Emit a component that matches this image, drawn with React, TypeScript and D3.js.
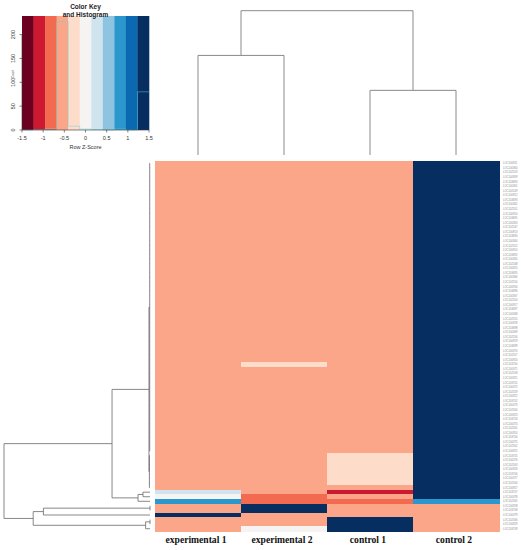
import * as d3 from "d3";

// columns of the heatmap (left to right)
const columns = ["experimental 1", "experimental 2", "control 1", "control 2"];

// row z-scores, one array per column, rows top to bottom
const expZ1 = [
  -0.5, -0.5, -0.5, -0.5, -0.5, -0.5, -0.5, -0.5, -0.5, -0.5,
  -0.5, -0.5, -0.5, -0.5, -0.5, -0.5, -0.5, -0.5, -0.5, -0.5,
  -0.5, -0.5, -0.5, -0.5, -0.5, -0.5, -0.5, -0.5, -0.5, -0.5,
  -0.5, -0.5, -0.5, -0.5, -0.5, -0.5, -0.5, -0.5, -0.5, -0.5,
  -0.5, -0.5, -0.5, -0.5, -0.5, -0.5, -0.5, -0.5, -0.5, -0.5,
  -0.5, -0.5, -0.5, -0.5, -0.5, -0.5, -0.5, -0.5, -0.5, -0.5,
  -0.5, -0.5, -0.5, -0.5, -0.5, -0.5, -0.5, -0.5, -0.5, -0.5,
  -0.5, -0.5, 0.25, 0, 0.8, -0.5, -0.5, 1.5, -0.5, -0.5,
  -0.6,
];
const expZ2 = [
  -0.5, -0.5, -0.5, -0.5, -0.5, -0.5, -0.5, -0.5, -0.5, -0.5,
  -0.5, -0.5, -0.5, -0.5, -0.5, -0.5, -0.5, -0.5, -0.5, -0.5,
  -0.5, -0.5, -0.5, -0.5, -0.5, -0.5, -0.5, -0.5, -0.5, -0.5,
  -0.5, -0.5, -0.5, -0.5, -0.5, -0.5, -0.5, -0.5, -0.5, -0.5,
  -0.5, -0.5, -0.5, -0.5, -0.3, -0.5, -0.5, -0.5, -0.5, -0.5,
  -0.5, -0.5, -0.5, -0.5, -0.5, -0.5, -0.5, -0.5, -0.5, -0.5,
  -0.5, -0.5, -0.5, -0.5, -0.5, -0.5, -0.5, -0.5, -0.5, -0.5,
  -0.5, -0.5, -0.5, -0.8, -0.8, 1.5, 1.5, -0.5, -0.5, -0.5,
  -0.1,
];
const ctrlZ1 = [
  -0.5, -0.5, -0.5, -0.5, -0.5, -0.5, -0.5, -0.5, -0.5, -0.5,
  -0.5, -0.5, -0.5, -0.5, -0.5, -0.5, -0.5, -0.5, -0.5, -0.5,
  -0.5, -0.5, -0.5, -0.5, -0.5, -0.5, -0.5, -0.5, -0.5, -0.5,
  -0.5, -0.5, -0.5, -0.5, -0.5, -0.5, -0.5, -0.5, -0.5, -0.5,
  -0.5, -0.5, -0.5, -0.5, -0.5, -0.5, -0.5, -0.5, -0.5, -0.5,
  -0.5, -0.5, -0.5, -0.5, -0.5, -0.5, -0.5, -0.5, -0.5, -0.5,
  -0.5, -0.5, -0.5, -0.5, -0.3, -0.3, -0.3, -0.3, -0.3, -0.3,
  -0.3, -0.5, -1.1, -0.5, -0.8, -0.5, -0.5, -0.5, 1.5, 1.5,
  1.4,
];
const ctrlZ2 = [
  1.5, 1.5, 1.5, 1.5, 1.5, 1.5, 1.5, 1.5, 1.5, 1.5,
  1.5, 1.5, 1.5, 1.5, 1.5, 1.5, 1.5, 1.5, 1.5, 1.5,
  1.5, 1.5, 1.5, 1.5, 1.5, 1.5, 1.5, 1.5, 1.5, 1.5,
  1.5, 1.5, 1.5, 1.5, 1.5, 1.5, 1.5, 1.5, 1.5, 1.5,
  1.5, 1.5, 1.5, 1.5, 1.3, 1.5, 1.5, 1.5, 1.5, 1.5,
  1.5, 1.5, 1.5, 1.5, 1.5, 1.5, 1.5, 1.5, 1.5, 1.5,
  1.5, 1.5, 1.5, 1.5, 1.3, 1.3, 1.3, 1.3, 1.3, 1.3,
  1.3, 1.5, 1.35, 1.3, 0.8, -0.5, -0.5, -0.5, -0.5, -0.5,
  -0.6,
];

// row labels (too small to read in the source, placeholders of similar length)
const rowLabels = (
  "LOC100911 LOC100360 LOC102553 LOC100909 LOC103690 LOC100361 LOC102549 LOC100912 LOC103693 " +
  "LOC100362 LOC102551 LOC100910 LOC103691 LOC100363 LOC102547 LOC100913 LOC103694 LOC100364 " +
  "LOC102552 LOC100914 LOC103692 LOC100365 LOC102548 LOC100915 LOC103695 LOC100366 LOC102550 " +
  "LOC100916 LOC103696 LOC100367 LOC102554 LOC100917 LOC103697 LOC100368 LOC102555 LOC100918 " +
  "LOC103698 LOC100369 LOC102556 LOC100919 LOC103699 LOC100370 LOC102557 LOC100920 LOC103700 " +
  "LOC100371 LOC102558 LOC100921 LOC103701 LOC100372 LOC102559 LOC100922 LOC103702 LOC100373 " +
  "LOC102560 LOC100923 LOC103703 LOC100374 LOC102561 LOC100924 LOC103704 LOC100375 LOC102562 " +
  "LOC100925 LOC103705 LOC100376 LOC102563 LOC100926 LOC103706 LOC100377 LOC102564 LOC100927 " +
  "LOC103707 LOC100378 LOC102565 LOC100928 LOC103708 LOC100379 LOC102566 LOC100929 LOC103709"
).split(" ");

// colour key (11 bands from -1.5 to 1.5)
const palette = [
  "#6b0020", "#cc1830", "#f26a4f", "#fba688", "#fddcc9", "#f6f4f2",
  "#cfe4ef", "#8ec4df", "#2b97cc", "#0a69b0", "#062e61",
];
const keyTicks = [-1.5, -1, -0.5, 0, 0.5, 1, 1.5];
const countTicks = [0, 50, 100, 150, 200];

// row dendrogram: merge heights, leaves are row indices
const baseRows = d3.range(0, 64);
const rowTree = {
  h: 10,
  c: [
    {
      h: 2.6,
      c: [
        { h: 0.07, c: [{ h: 0.02, c: baseRows }, { h: 0.04, c: [64, 65, 66, 67, 68, 69, 70, 71] }] },
        { h: 0.82, c: [{ h: 0.48, c: [72, 73] }, 74] },
      ],
    },
    {
      h: 8.0,
      c: [
        { h: 7.3, c: [{ h: 0, c: [75, 76] }, 77] },
        { h: 0.3, c: [{ h: 0, c: [78, 79] }, 80] },
      ],
    },
  ],
};

// column dendrogram
const colTree = { h: 1, c: [{ h: 0.69, c: [0, 1] }, { h: 0.448, c: [2, 3] }] };

type Seg = [number, number, number, number];

// p = position along the leaves, q = position along the height
function dendroSegs(tree: any, leafPos: (i: number) => number, hPos: (h: number) => number) {
  const root: any = d3.hierarchy(tree, (d: any) => (typeof d === "number" ? null : d.c));
  root.eachAfter((n: any) => {
    if (!n.children) {
      n.p = leafPos(n.data);
      n.q = hPos(0);
    } else {
      n.p = (n.children[0].p + n.children[n.children.length - 1].p) / 2;
      n.q = hPos(n.data.h);
    }
  });
  const segs: Seg[] = [];
  root.each((n: any) => {
    if (!n.children) return;
    const first = n.children[0];
    const last = n.children[n.children.length - 1];
    segs.push([first.p, n.q, last.p, n.q]);
    n.children.forEach((c: any) => segs.push([c.p, n.q, c.p, c.q]));
  });
  return segs;
}

export default function App() {
  const width = 521;
  const height = 550;

  const x = d3.scaleBand<string>().domain(columns).range([155, 499]);
  const y = d3.scaleBand<number>().domain(d3.range(rowLabels.length)).range([161, 531]);
  const color = d3.scaleQuantize<string>().domain([-1.5, 1.5]).range(palette);
  const series = [expZ1, expZ2, ctrlZ1, ctrlZ2];

  // key
  const breaks = d3.range(12).map((j) => -1.5 + (j * 3) / 11);
  const kx = d3.scaleLinear().domain([-1.5, 1.5]).range([22, 149]);
  const allZ = series.flat();
  const bins = d3.bin().domain([-1.5, 1.5]).thresholds(breaks.slice(1, -1))(allZ);
  const counts = bins.map((b) => b.length);
  const maxCount = d3.max(counts) as number;
  const ky = d3.scaleLinear().domain([0, maxCount / 0.95]).range([130, 16]);
  const histPts: [number, number][] = breaks.map((b, j) => [b, counts[Math.min(j, counts.length - 1)]]);
  const histPath = d3
    .line<[number, number]>()
    .x((d) => kx(d[0]))
    .y((d) => ky(d[1]))
    .curve(d3.curveStepAfter)(histPts);

  const rowSegs = dendroSegs(
    rowTree,
    (i) => (y(i) as number) + y.bandwidth() / 2,
    d3.scaleLinear().domain([0, 10]).range([150, 4])
  );
  const colSegs = dendroSegs(
    colTree,
    (i) => (x(columns[i]) as number) + x.bandwidth() / 2,
    d3.scaleLinear().domain([0, 1]).range([155, 10.7])
  );

  return (
    <svg
      width={width}
      height={height}
      style={{ position: "absolute", left: 0, top: 0, background: "#fff" }}
      fontFamily="Liberation Sans, Arial, sans-serif"
    >
      {/* colour key */}
      <g>
        {palette.map((c, j) => (
          <rect
            key={j}
            x={kx(breaks[j])}
            y={16}
            width={kx(breaks[j + 1]) - kx(breaks[j]) + 0.3}
            height={114}
            fill={c}
          />
        ))}
        <path d={histPath || ""} fill="none" stroke="#5fd6dc" strokeWidth={0.6} strokeOpacity={0.8} />
        <line x1={kx(-1.5)} x2={kx(1.5)} y1={130} y2={130} stroke="#333" strokeWidth={0.6} />
        {keyTicks.map((t) => (
          <g key={t}>
            <line x1={kx(t)} x2={kx(t)} y1={130} y2={132.5} stroke="#333" strokeWidth={0.6} />
            <text x={kx(t)} y={139.5} fontSize={5.5} textAnchor="middle" fill="#333">
              {t}
            </text>
          </g>
        ))}
        <line x1={22} x2={22} y1={ky(0)} y2={ky(200)} stroke="#333" strokeWidth={0.6} />
        {countTicks.map((t) => (
          <g key={t}>
            <line x1={19.5} x2={22} y1={ky(t)} y2={ky(t)} stroke="#333" strokeWidth={0.6} />
            <text
              transform={`translate(15,${ky(t)}) rotate(-90)`}
              fontSize={5.5}
              textAnchor="middle"
              fill="#333"
            >
              {t}
            </text>
          </g>
        ))}
        <text transform="translate(14,74) rotate(-90)" fontSize={3.2} textAnchor="middle" fill="#555">
          Count
        </text>
        <text x={85.5} y={148.5} fontSize={5.5} textAnchor="middle" fill="#333">
          Row Z-Score
        </text>
        <text x={85.5} y={9} fontSize={6.5} fontWeight="bold" textAnchor="middle" fill="#222">
          Color Key
        </text>
        <text x={85.5} y={16.5} fontSize={6.5} fontWeight="bold" textAnchor="middle" fill="#222">
          and Histogram
        </text>
      </g>

      {/* heatmap */}
      <g shapeRendering="crispEdges">
        {series.map((vals, ci) =>
          vals.map((v, ri) => (
            <rect
              key={`${ci}-${ri}`}
              x={x(columns[ci])}
              y={y(ri)}
              width={x.bandwidth() + 0.5}
              height={y.bandwidth() + 0.5}
              fill={color(v)}
            />
          ))
        )}
      </g>

      {/* row labels */}
      {rowLabels.map((l, i) => (
        <text
          key={l + i}
          x={503}
          y={(y(i) as number) + y.bandwidth() / 2 + 1}
          fontSize={2.7}
          fill="#888"
        >
          {l}
        </text>
      ))}

      {/* column labels */}
      {columns.map((c) => (
        <text
          key={c}
          x={(x(c) as number) + x.bandwidth() / 2 - 2}
          y={543}
          fontSize={9.6}
          fontWeight="bold"
          fontFamily="Liberation Serif, serif"
          textAnchor="middle"
          fill="#111"
        >
          {c}
        </text>
      ))}

      {/* row dendrogram */}
      <g stroke="#6a6a6a" strokeWidth={0.8} fill="none">
        {rowSegs.map((s, i) => (
          <line key={i} x1={s[1]} y1={s[0]} x2={s[3]} y2={s[2]} />
        ))}
      </g>

      {/* column dendrogram */}
      <g stroke="#8a8a8a" strokeWidth={1} fill="none">
        {colSegs.map((s, i) => (
          <line key={i} x1={s[0]} y1={s[1]} x2={s[2]} y2={s[3]} />
        ))}
      </g>
    </svg>
  );
}
